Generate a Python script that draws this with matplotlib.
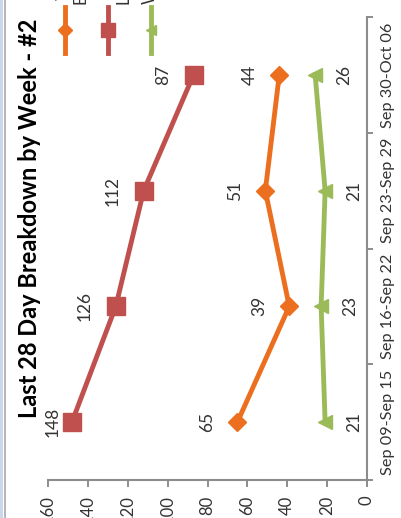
import numpy as np
import matplotlib
matplotlib.use('Agg')
import matplotlib.pyplot as plt
from matplotlib.lines import Line2D
from matplotlib.patches import Rectangle

# chart is drawn turned a quarter turn (as in the scanned reference)
weeks = ['Sep 09-Sep 15', 'Sep 16-Sep 22', 'Sep 23-Sep 29', 'Sep 30-Oct 06']
web = [65, 39, 51, 44]
calls = [148, 126, 112, 87]
walkins = [21, 23, 21, 26]
series_names = ['Web\nBased', 'Calls\nLogged', 'Walk-ins\nTotal']
value_ticks = [0, 20, 40, 60, 80, 100, 120, 140, 160]
title = 'Last 28 Day Breakdown by Week - #2'

plt.rcParams['font.family'] = ['Lato', 'DejaVu Sans']
W, H = 401, 518
fig = plt.figure(figsize=(W / 100, H / 100), dpi=100)

# left border of the scan
fig.add_artist(Rectangle((0, 0), 3 / W, 1, transform=fig.transFigure,
                         color='#c9d8ea', lw=0))
fig.add_artist(Line2D([4.5 / W, 4.5 / W], [0, 1], transform=fig.transFigure,
                      color='#a8a8a8', lw=1.2))

ax = fig.add_axes([48 / W, 1 - 480 / H, (367 - 48) / W, (480 - 17) / H])

colors = ['#eb6f1f', '#c0504d', '#9bbb59']
markers = ['D', 's', '<']
msizes = [9, 12.5, 10]
pos = np.arange(len(weeks))

for vals, c, m, ms in zip([web, calls, walkins], colors, markers, msizes):
    ax.plot(vals, pos, color=c, lw=3.5, marker=m, ms=ms, mec=c, mfc=c, zorder=3)

# data labels: red/orange on the left, green on the right
for i in range(len(weeks)):
    ax.text(min(calls[i] + 15.5, 157.5), pos[i], str(calls[i]), rotation=90,
            ha='center', va='center', fontsize=12.5, color='#333333')
    ax.text(web[i] + 15, pos[i], str(web[i]), rotation=90,
            ha='center', va='center', fontsize=12.5, color='#333333')
    ax.text(walkins[i] - 14.5, pos[i], str(walkins[i]), rotation=90,
            ha='center', va='center', fontsize=12.5, color='#333333')

ax.set_xlim(160, 0)
ax.set_ylim(-0.5, len(weeks) - 0.5)
ax.set_xticks(value_ticks)
ax.set_xticklabels([str(v) for v in value_ticks], rotation=90, va='top')
ax.set_yticks(pos)
ax.set_yticklabels(weeks, rotation=90, va='center')
ax.set_yticks(np.arange(len(weeks) + 1) - 0.5, minor=True)

for s in ['left', 'top']:
    ax.spines[s].set_visible(False)
for s in ['bottom', 'right']:
    ax.spines[s].set_color('#8c8c8c')
    ax.spines[s].set_linewidth(1.5)

ax.yaxis.tick_right()
ax.tick_params(axis='x', direction='out', length=5, width=1.4, color='#8c8c8c',
               pad=6, labelsize=12, labelcolor='#333333')
ax.tick_params(axis='y', which='major', length=0, pad=10, labelsize=11.7,
               labelcolor='#333333')
ax.tick_params(axis='y', which='minor', direction='out', length=4, width=1.4,
               color='#8c8c8c')

fig.text(30 / W, 1 - 218 / H, title, rotation=90, ha='center', va='center',
         fontsize=17, fontweight='bold', color='black')

# legend, drawn by hand so that it sits turned like the chart
for k, (name, c, m, ms) in enumerate(zip(series_names, colors, markers, msizes)):
    x = (65 + 43 * k) / W
    fig.add_artist(Line2D([x, x], [1 - 53 / H, 1 - 7 / H], transform=fig.transFigure,
                          color=c, lw=3.5))
    fig.add_artist(Line2D([x], [1 - 30 / H], transform=fig.transFigure, color=c,
                          marker=m, ms=ms * 0.75, mec=c, mfc=c, lw=0))
    fig.text(x + 7 / W, 1 - 4 / H, name, rotation=90, ha='center', va='bottom',
             fontsize=12, color='#333333', linespacing=1.1)

fig.savefig('out.png', dpi=100)
